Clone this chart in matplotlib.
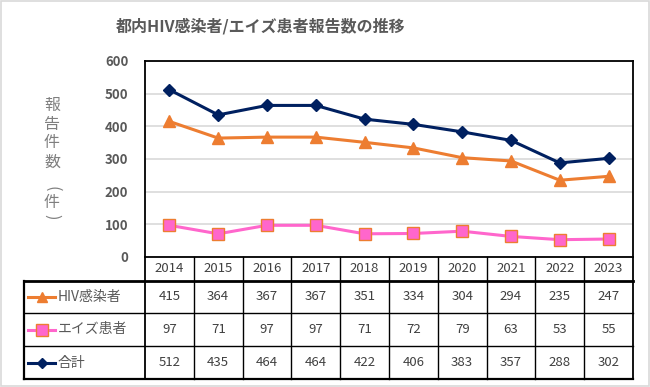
import matplotlib
matplotlib.use("Agg")
import matplotlib.pyplot as plt
from matplotlib.patches import Rectangle

plt.rcParams['font.family'] = ['Noto Sans CJK JP', 'DejaVu Sans']

years = ["2014", "2015", "2016", "2017", "2018", "2019", "2020", "2021", "2022", "2023"]
hiv = [415, 364, 367, 367, 351, 334, 304, 294, 235, 247]
aids = [97, 71, 97, 97, 71, 72, 79, 63, 53, 55]
total = [512, 435, 464, 464, 422, 406, 383, 357, 288, 302]
series_names = ["HIV感染者", "エイズ患者", "合計"]
title = "都内HIV感染者/エイズ患者報告数の推移"
ylabel_chars = ["報", "告", "件", "数", "(", "件", ")"]

W, H = 650, 387
fig = plt.figure(figsize=(W / 100, H / 100), dpi=100)

# pixel layout
L, R, T, B = 145, 633, 61, 257
ax = fig.add_axes([L / W, 1 - B / H, (R - L) / W, (B - T) / H])
x = list(range(len(years)))
navy = "#002060"
orange = "#ED7D31"
pink = "#FF66CC"
ax.plot(x, total, color=navy, lw=2.2, marker="D", ms=6, zorder=3)
ax.plot(x, hiv, color=orange, lw=2.2, marker="^", ms=8, zorder=3)
ax.plot(x, aids, color=pink, lw=2.2, marker="s", ms=9, mfc=pink, mec=orange, mew=1.0, zorder=3)
ax.set_xlim(-0.5, len(years) - 0.5)
ax.set_ylim(0, 600)
ax.set_yticks(range(0, 601, 100))
ax.set_xticks([])
ax.yaxis.grid(True, color="#D9D9D9", lw=1.2)
ax.set_axisbelow(True)
for s in ax.spines.values():
    s.set_color("black")
    s.set_linewidth(1.3)
ax.tick_params(axis="y", length=0, pad=12, labelsize=9.5, labelcolor="#595959")
for lab in ax.get_yticklabels():
    lab.set_fontweight("bold")

# overlay axes in pixel coords for table and texts
ov = fig.add_axes([0, 0, 1, 1], zorder=5)
ov.set_xlim(0, W)
ov.set_ylim(H, 0)
ov.axis("off")
ov.patch.set_alpha(0)

# figure border
ov.add_patch(Rectangle((0.5, 0.5), W - 1.5, H - 1.5, fill=False, ec="#D9D9D9", lw=1.2))

ov.text(261, 26, title, ha="center", va="center", fontsize=11.5, color="#595959", fontweight="bold")

ylab_pos = [105, 124, 143, 162, 189, 203, 217]
for ch, yy in zip(ylabel_chars, ylab_pos):
    rot = -90 if ch in "()" else 0
    ov.text(52, yy, ch, ha="center", va="center", fontsize=11.5, color="#7F7F7F",
            rotation=rot, rotation_mode="anchor")

# table
TL = 24
col_w = (R - L) / len(years)
row_y = [257, 281, 313, 346, 379]
lc = "black"
# year row
for i, yv in enumerate(years):
    ov.text(L + (i + 0.5) * col_w, (row_y[0] + row_y[1]) / 2, yv, ha="center", va="center",
            fontsize=9.5, color="#404040")
# vertical lines
for i in range(len(years) + 1):
    xx = L + i * col_w
    ov.plot([xx, xx], [row_y[0], row_y[4]], color=lc, lw=1.3 if i in (0, len(years)) else 1.0)
ov.plot([TL, TL], [row_y[1], row_y[4]], color=lc, lw=1.6)
ov.plot([TL, R], [row_y[1], row_y[1]], color=lc, lw=2.0)
ov.plot([TL, R], [row_y[2], row_y[2]], color=lc, lw=1.0)
ov.plot([TL, R], [row_y[3], row_y[3]], color=lc, lw=1.0)
ov.plot([TL, R], [row_y[4], row_y[4]], color=lc, lw=1.6)

rows = [hiv, aids, total]
styles = [dict(color=orange, marker="^", ms=7, mfc=orange, mec=orange),
          dict(color=pink, marker="s", ms=8, mfc=pink, mec=orange),
          dict(color=navy, marker="D", ms=5, mfc=navy, mec=navy)]
for r, (vals, name, st) in enumerate(zip(rows, series_names, styles)):
    yc = (row_y[r + 1] + row_y[r + 2]) / 2
    ov.plot([28, 55], [yc, yc], lw=2.2, color=st["color"])
    ov.plot([41.5], [yc], marker=st["marker"], ms=st["ms"], mfc=st["mfc"], mec=st["mec"], lw=0)
    ov.text(58, yc, name, ha="left", va="center", fontsize=10, color="#595959")
    for i, v in enumerate(vals):
        ov.text(L + (i + 0.5) * col_w, yc, str(v), ha="center", va="center", fontsize=9.5, color="#404040")

fig.savefig("out.png", dpi=100)
